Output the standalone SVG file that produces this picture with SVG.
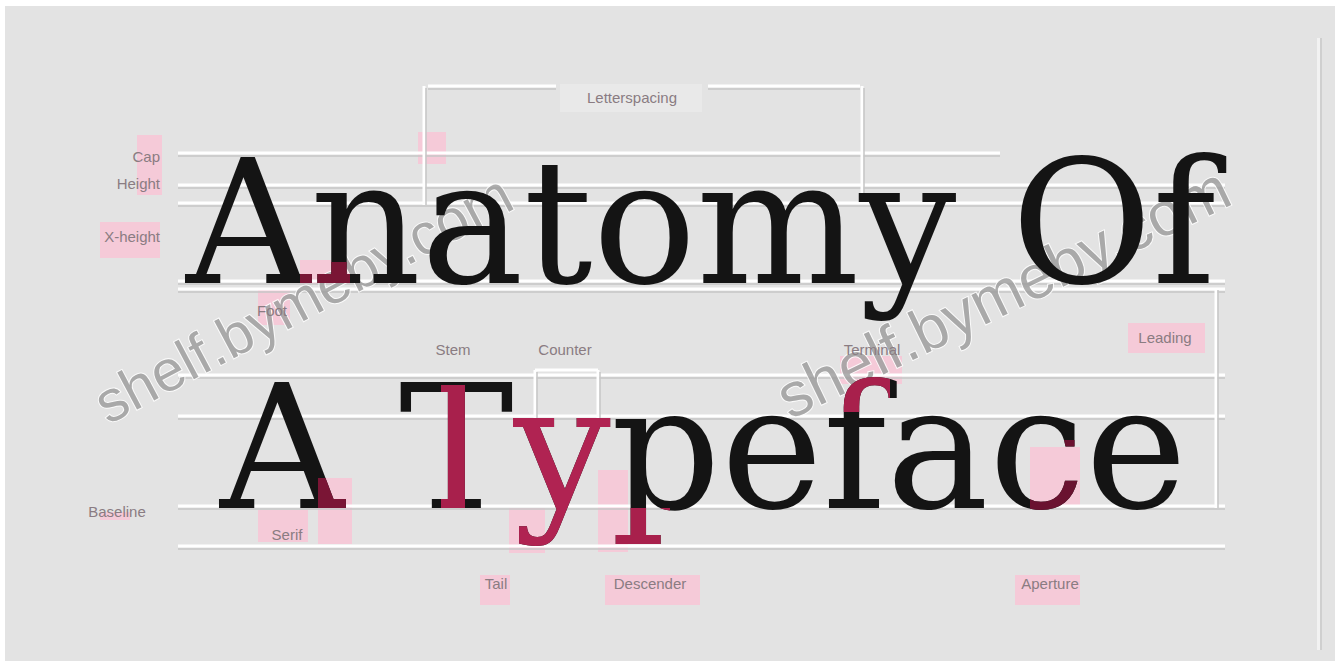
<svg xmlns="http://www.w3.org/2000/svg" xmlns:xlink="http://www.w3.org/1999/xlink" width="1335" height="666" viewBox="0 0 1335 666">
<style>
.big{font-family:"DejaVu Serif",serif;font-size:172px}
.lbl{font-family:"Liberation Sans",Arial,sans-serif;font-size:15px;fill:#8a7c82}
.hl{fill:#f8c6d6;opacity:0.85}
.ln{stroke:#ffffff;stroke-width:3;fill:none}
.lns{stroke:#c6c6c6;stroke-width:1.5;fill:none}
.wm{font-family:"Liberation Sans",Arial,sans-serif;fill:#a0a0a0;stroke:#ffffff;stroke-width:2;paint-order:stroke;opacity:0.85}
</style>
<defs>
<text id="t1" class="big" x="186" y="283">Anatomy Of</text>
<text id="t2" class="big" x="220" y="508">A Typeface</text>
<clipPath id="cT"><rect x="441" y="385" width="24" height="123"/></clipPath>
<clipPath id="cY"><rect x="512" y="410" width="100" height="150"/></clipPath>
<clipPath id="cP"><rect x="598" y="508" width="72" height="46"/></clipPath>
<clipPath id="cF"><rect x="838" y="360" width="52" height="52"/></clipPath>
<clipPath id="cC"><rect x="1030" y="440" width="55" height="72"/></clipPath>
<clipPath id="cN"><rect x="300" y="262" width="50" height="22"/></clipPath>
<clipPath id="cA"><rect x="318" y="478" width="34" height="32"/></clipPath>
</defs>
<rect x="0" y="0" width="1335" height="666" fill="#ffffff"/>
<rect x="5" y="6" width="1330" height="655" fill="#e3e3e3"/>
<rect x="1317" y="38" width="3" height="612" fill="#f2f2f2"/>
<rect x="1320" y="38" width="2" height="612" fill="#cfcfcf"/>

<g id="highlights">
<rect class="hl" x="137" y="135" width="25" height="60"/>
<rect class="hl" x="100" y="222" width="60" height="36"/>
<rect class="hl" x="418" y="132" width="28" height="32"/>
<rect class="hl" x="300" y="260" width="50" height="24"/>
<rect class="hl" x="258" y="290" width="32" height="35"/>
<rect class="hl" x="1128" y="323" width="77" height="30"/>
<rect class="hl" x="840" y="356" width="62" height="28"/>
<rect class="hl" x="100" y="512" width="30" height="8"/>
<rect class="hl" x="258" y="510" width="50" height="32"/>
<rect class="hl" x="318" y="478" width="34" height="66"/>
<rect class="hl" x="509" y="508" width="36" height="45"/>
<rect class="hl" x="598" y="470" width="30" height="82"/>
<rect class="hl" x="480" y="575" width="30" height="30"/>
<rect class="hl" x="605" y="575" width="95" height="30"/>
<rect class="hl" x="1030" y="447" width="50" height="60"/>
<rect class="hl" x="1015" y="575" width="65" height="30"/>
</g>

<g id="connectors">
<path class="ln" d="M178 153H1000M178 185H1225M178 203H1225M178 281H1225M178 289H1225M178 375H1225M178 416H1225M178 506H1225M178 546H1225"/>
<path class="lns" d="M178 156H1000M178 188H1225M178 206H1225M178 284H1225M178 292H1225M178 378H1225M178 419H1225M178 509H1225M178 549H1225"/>
<path class="ln" d="M424 86V205M862 86V200M428 86H556M708 86H860M1216 290V508M535 370V420M598 370V420M535 370H598"/>
<path class="lns" d="M426 88V205M864 88V200M428 89H556M708 89H860M1218 290V508M537 372V420M600 372V420"/>
</g>

<g id="watermark">
<text class="wm" font-size="58" transform="translate(108,425) rotate(-28)">shelf.bymeby.com</text>
<text class="wm" font-size="62" transform="translate(790,420) rotate(-26)">shelf.bymeby.com</text>
</g>

<g id="title">
<use xlink:href="#t1" fill="#141414"/>
<use xlink:href="#t2" fill="#141414"/>
<use xlink:href="#t1" fill="#7a1535" clip-path="url(#cN)"/>
<use xlink:href="#t2" fill="#a8204c" clip-path="url(#cT)"/>
<use xlink:href="#t2" fill="#b02352" clip-path="url(#cY)"/>
<use xlink:href="#t2" fill="#a8204c" clip-path="url(#cP)"/>
<use xlink:href="#t2" fill="#a8204c" clip-path="url(#cF)"/>
<use xlink:href="#t2" fill="#6a1230" clip-path="url(#cC)"/>
<use xlink:href="#t2" fill="#7a1535" clip-path="url(#cA)"/>
</g>

<g id="cap-height"><text class="lbl" x="160" y="162" text-anchor="end">Cap</text><text class="lbl" x="160" y="189" text-anchor="end">Height</text></g>
<g id="x-height"><text class="lbl" x="160" y="242" text-anchor="end">X-height</text></g>
<g id="letterspacing"><rect x="560" y="84" width="142" height="28" fill="#e9e9e9"/><text class="lbl" x="632" y="103" text-anchor="middle">Letterspacing</text></g>
<g id="foot"><text class="lbl" x="272" y="316" text-anchor="middle">Foot</text></g>
<g id="stem"><text class="lbl" x="453" y="355" text-anchor="middle">Stem</text></g>
<g id="counter"><text class="lbl" x="565" y="355" text-anchor="middle">Counter</text></g>
<g id="terminal"><text class="lbl" x="872" y="355" text-anchor="middle">Terminal</text></g>
<g id="leading"><text class="lbl" x="1165" y="343" text-anchor="middle">Leading</text></g>
<g id="baseline"><text class="lbl" x="117" y="517" text-anchor="middle">Baseline</text></g>
<g id="serif"><text class="lbl" x="287" y="540" text-anchor="middle">Serif</text></g>
<g id="tail"><text class="lbl" x="496" y="589" text-anchor="middle">Tail</text></g>
<g id="descender"><text class="lbl" x="650" y="589" text-anchor="middle">Descender</text></g>
<g id="aperture"><text class="lbl" x="1050" y="589" text-anchor="middle">Aperture</text></g>
</svg>
